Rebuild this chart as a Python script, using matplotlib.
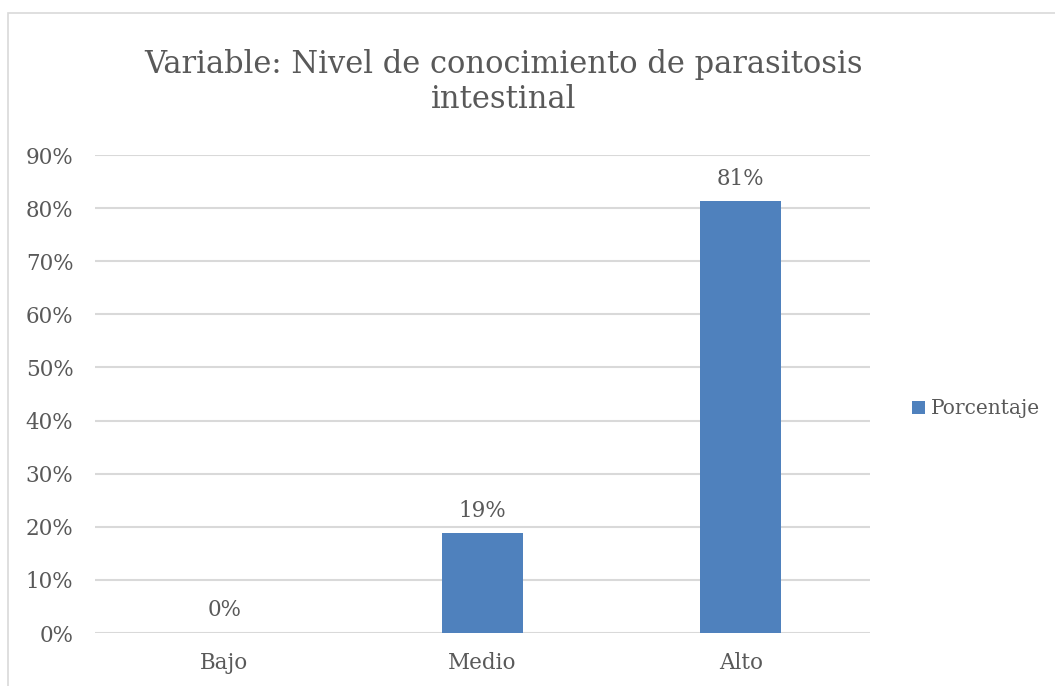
import matplotlib.pyplot as plt
from matplotlib.patches import Rectangle

categorias = ["Bajo", "Medio", "Alto"]
porcentaje = [0.0, 18.75, 81.25]
ticks_y = [0, 10, 20, 30, 40, 50, 60, 70, 80, 90]

titulo = "Variable: Nivel de conocimiento de parasitosis\nintestinal"
serie = "Porcentaje"

gris_texto = "#595959"
gris_linea = "#d9d9d9"
azul = "#4f81bd"

plt.rcParams['font.family'] = ['DejaVu Serif']

fig = plt.figure(figsize=(10.55, 6.86), dpi=100)
# marco exterior del grafico
fig.patches.append(Rectangle((8 / 1055, -0.01), 1.1, 1 - 13 / 686 + 0.01,
                             transform=fig.transFigure, fill=False,
                             edgecolor=gris_linea, linewidth=1.2))

ax = fig.add_axes([95 / 1055, 1 - 633 / 686, (870 - 95) / 1055, (633 - 155) / 686])
x = range(len(categorias))
barras = ax.bar(x, porcentaje, width=0.314, color=azul, label=serie, zorder=3)

for b, v in zip(barras, porcentaje):
    ax.text(b.get_x() + b.get_width() / 2, v + 2.2, "{:.0f}%".format(v),
            ha="center", va="bottom", fontsize=15.5, color=gris_texto)

ax.set_xlim(-0.5, len(categorias) - 0.5)
ax.set_ylim(0, 90)
ax.set_yticks(ticks_y)
ax.set_yticklabels(["{}%".format(t) for t in ticks_y])
ax.set_xticks(list(x))
ax.set_xticklabels(categorias)
ax.yaxis.grid(True, color=gris_linea, linewidth=1.5, zorder=0)
ax.tick_params(axis="both", length=0, labelsize=15.5, labelcolor=gris_texto)
ax.tick_params(axis="y", pad=15.5)
ax.tick_params(axis="x", pad=14)
for s in ax.spines.values():
    s.set_visible(False)

fig.text(0.477, 1 - 82 / 686, titulo, ha="center", va="center",
         fontsize=22, color=gris_texto, linespacing=1.18)

fig.legend(loc="center left", bbox_to_anchor=(894 / 1055, 1 - 409 / 686),
           frameon=False, fontsize=14.5, labelcolor=gris_texto,
           handlelength=0.65, handleheight=0.65, handletextpad=0.3)

fig.savefig("out.png", dpi=100)
